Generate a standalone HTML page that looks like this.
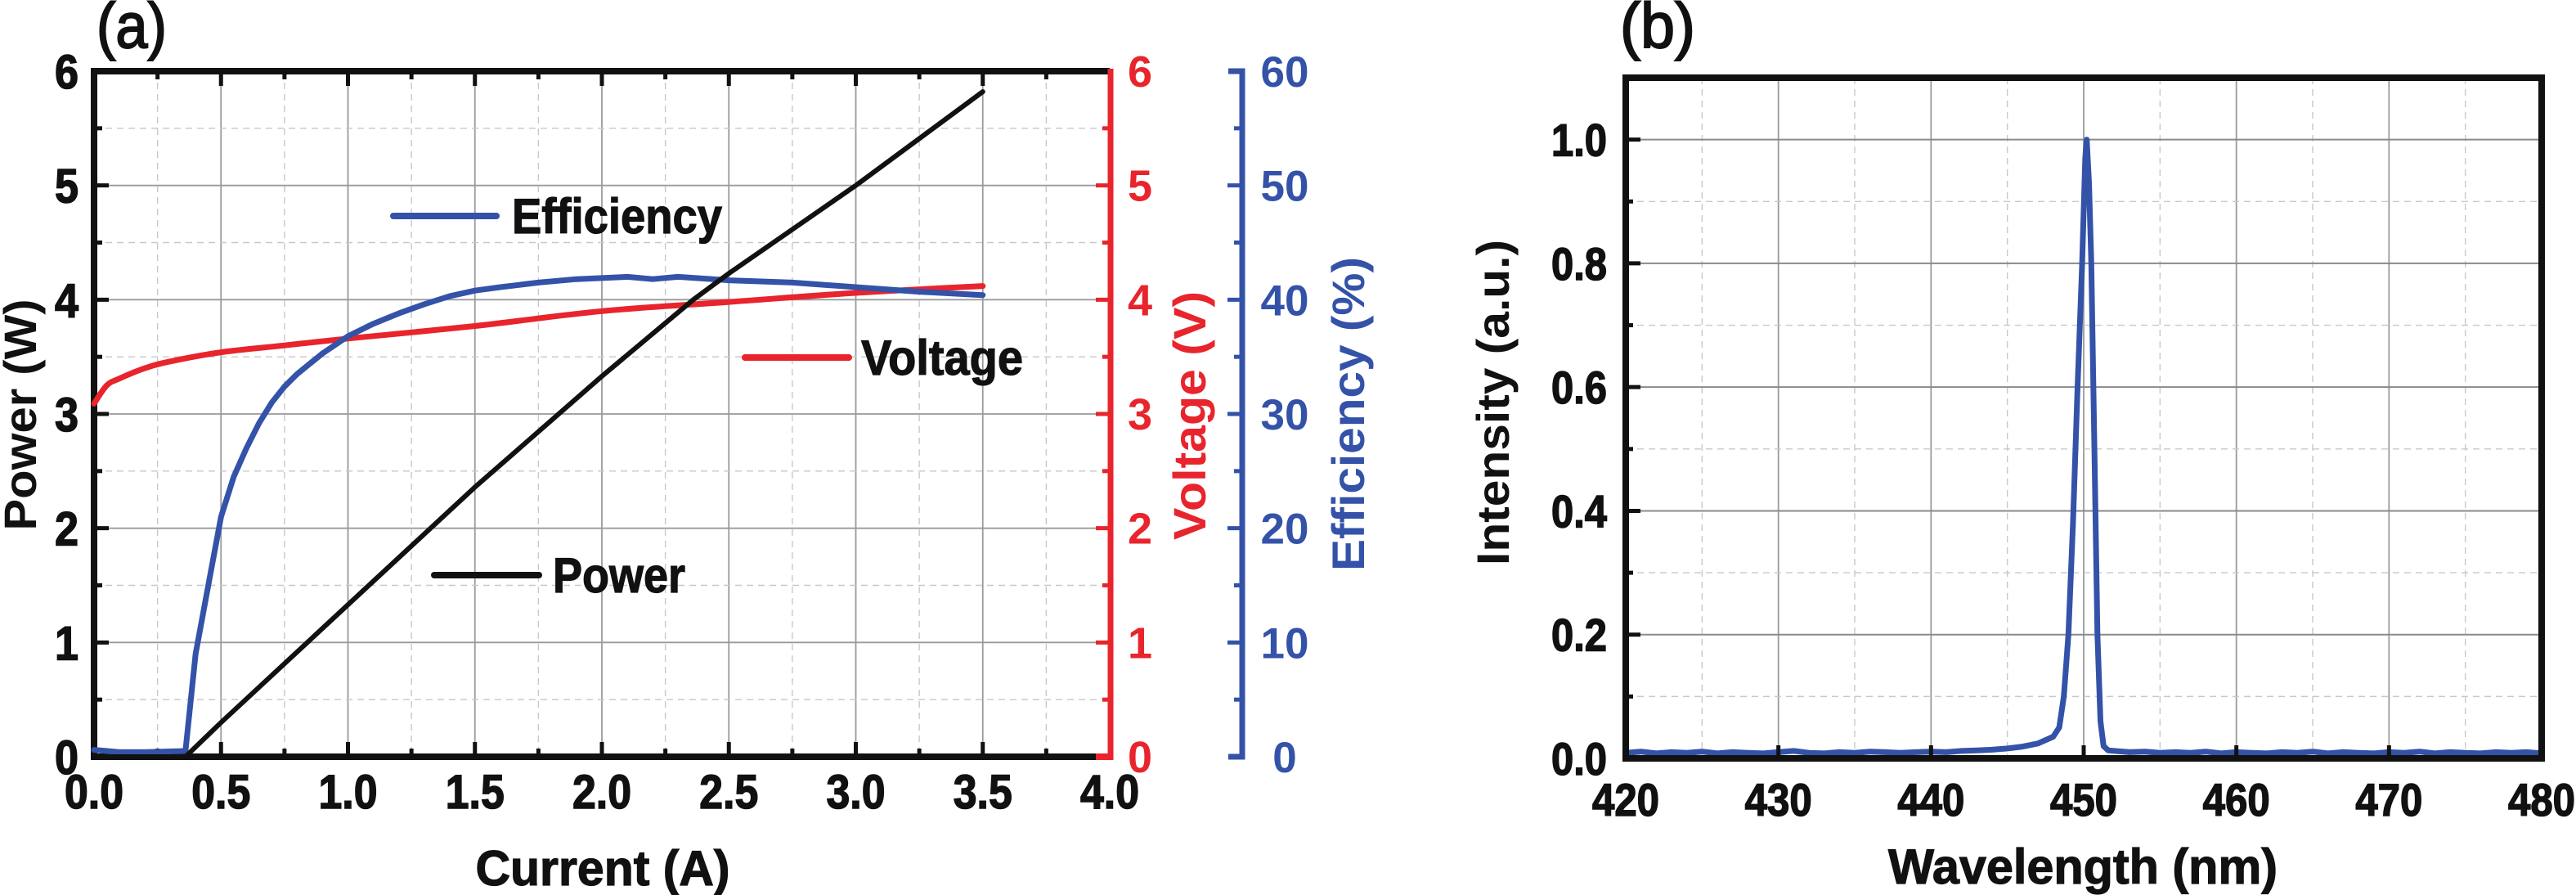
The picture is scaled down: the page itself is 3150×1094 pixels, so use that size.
<!DOCTYPE html>
<html><head><meta charset="utf-8"><style>
html,body{margin:0;padding:0;background:#fff;}
svg{display:block;font-family:"Liberation Sans",sans-serif;font-weight:bold;}
</style></head><body>
<svg id="fig" width="3150" height="1094" viewBox="0 0 3150 1094" xmlns="http://www.w3.org/2000/svg">
<g id="pa"></g>
<g id="pb"></g>
</svg>
<script>
// ---------- Panel (a) data ----------
const xTicksA = [0, 0.5, 1.0, 1.5, 2.0, 2.5, 3.0, 3.5, 4.0];
const xTickLabelsA = ["0.0","0.5","1.0","1.5","2.0","2.5","3.0","3.5","4.0"];
const yTicksPower = [0,1,2,3,4,5,6];
const yTicksVoltage = [0,1,2,3,4,5,6];
const yTicksEff = [0,10,20,30,40,50,60];
const powerCurrent = [0, 0.36, 0.5, 1.0, 1.5, 2.0, 2.36, 2.5, 3.0, 3.5];
const powerValues  = [0, 0, 0.3, 1.33, 2.36, 3.33, 4.0, 4.23, 5.0, 5.82];
const voltCurrent = [0, 0.05, 0.1, 0.2, 0.3, 0.5, 0.75, 1.0, 1.5, 2.0, 2.5, 3.0, 3.5];
const voltValues  = [3.09, 3.25, 3.31, 3.4, 3.46, 3.54, 3.6, 3.66, 3.77, 3.9, 3.98, 4.06, 4.12];
const effCurrent = [0, 0.1, 0.2, 0.36, 0.4, 0.45, 0.5, 0.55, 0.6, 0.65, 0.7, 0.75, 0.8, 0.9, 1.0, 1.1, 1.2, 1.3, 1.4, 1.5, 1.6, 1.75, 1.9, 2.1, 2.2, 2.3, 2.5, 2.75, 3.0, 3.25, 3.5];
const effValues  = [0.6, 0.4, 0.4, 0.5, 9, 15, 21, 24.5, 27, 29.2, 31, 32.4, 33.5, 35.3, 36.8, 37.9, 38.8, 39.6, 40.3, 40.8, 41.1, 41.5, 41.8, 42, 41.8, 42, 41.7, 41.5, 41.1, 40.7, 40.4];
// ---------- Panel (b) data ----------
const xTicksB = [420,430,440,450,460,470,480];
const yTicksB = [0,0.2,0.4,0.6,0.8,1.0];
const yTickLabelsB = ["0.0","0.2","0.4","0.6","0.8","1.0"];
const specWl = [420,421,422,423,424,425,426,427,428,429,430,431,432,433,434,435,436,437,438,439,440,441,442,443,444,445,446,447,448,448.4,448.7,449.0,449.3,449.6,449.9,450.1,450.2,450.35,450.5,450.7,450.9,451.1,451.3,451.6,452,453,454,455,456,457,458,459,460,461,462,463,464,465,466,467,468,469,470,471,472,473,474,475,476,477,478,479,480];
const specI  = [0.009,0.011,0.008,0.010,0.009,0.011,0.008,0.010,0.009,0.008,0.010,0.012,0.009,0.008,0.010,0.009,0.011,0.010,0.009,0.010,0.011,0.010,0.012,0.013,0.014,0.016,0.019,0.024,0.035,0.05,0.1,0.2,0.38,0.6,0.8,0.97,1.0,0.93,0.8,0.5,0.2,0.06,0.02,0.013,0.012,0.010,0.011,0.009,0.010,0.009,0.011,0.008,0.010,0.009,0.008,0.010,0.009,0.011,0.008,0.010,0.009,0.008,0.010,0.009,0.011,0.008,0.010,0.009,0.008,0.010,0.009,0.010,0.008];

const NS = "http://www.w3.org/2000/svg";
function mk(parent, tag, attrs, text){
  const e = document.createElementNS(NS, tag);
  for (const k in attrs) e.setAttribute(k, attrs[k]);
  if (text !== undefined) e.textContent = text;
  parent.appendChild(e);
  return e;
}
const RED = "#e8242c", BLUE = "#3352a8";
function smooth(xs, ys, fx, fy){
  const p = xs.map((x,i)=>[fx(x), fy(ys[i])]);
  let d = `M${p[0][0].toFixed(1)} ${p[0][1].toFixed(1)}`;
  for (let i=0;i<p.length-1;i++){
    const p0=p[Math.max(0,i-1)], p1=p[i], p2=p[i+1], p3=p[Math.min(p.length-1,i+2)];
    const c1=[p1[0]+(p2[0]-p0[0])/6, p1[1]+(p2[1]-p0[1])/6];
    const c2=[p2[0]-(p3[0]-p1[0])/6, p2[1]-(p3[1]-p1[1])/6];
    d += ` C${c1[0].toFixed(1)} ${c1[1].toFixed(1)} ${c2[0].toFixed(1)} ${c2[1].toFixed(1)} ${p2[0].toFixed(1)} ${p2[1].toFixed(1)}`;
  }
  return d;
}
function poly(xs, ys, fx, fy){ return xs.map((x,i)=>`${fx(x).toFixed(1)},${fy(ys[i]).toFixed(1)}`).join(' '); }

// ===== Panel A =====
const pa = document.getElementById('pa');
const AX0 = 115, AX1 = 1357, AY0 = 925, AY1 = 87;
const ax = v => AX0 + (v - 0) / 4 * (AX1 - AX0);
const ayP = v => AY0 - v / 6 * (AY0 - AY1);
const ayV = v => AY0 - v / 6 * (AY0 - AY1);
const ayE = v => AY0 - v / 60 * (AY0 - AY1);

for (let v = 0.25; v < 4; v += 0.25) {
  const major = Math.abs(v*2 - Math.round(v*2)) < 1e-6;
  const g = mk(pa, 'line', {x1: ax(v), x2: ax(v), y1: AY1, y2: AY0, stroke: major ? '#9a9a9a' : '#c8c8c8', 'stroke-width': major ? 1.8 : 1.4, 'stroke-dasharray': major ? 'none' : '8 6'});
  
  
}
for (let v = 0.5; v < 6; v += 0.5) {
  const major = Math.abs(v - Math.round(v)) < 1e-6;
  const g = mk(pa, 'line', {x1: AX0, x2: AX1, y1: ayP(v), y2: ayP(v), stroke: major ? '#9a9a9a' : '#c8c8c8', 'stroke-width': major ? 1.8 : 1.4, 'stroke-dasharray': major ? 'none' : '8 6'});
  
  
}
const fr = mk(pa, 'path', {d: `M${AX1} ${AY1} H${AX0} V${AY0} H${AX1}`, fill: 'none', stroke: '#111', 'stroke-width': 8});


for (let v = 0.25; v < 4; v += 0.25) {
  const major = Math.abs(v*2 - Math.round(v*2)) < 1e-6;
  const L = major ? 18 : 10;
  const t1 = mk(pa, 'line', {x1: ax(v), x2: ax(v), y1: AY0, y2: AY0 - L, stroke: '#111', 'stroke-width': 5});
  
  
  const t2 = mk(pa, 'line', {x1: ax(v), x2: ax(v), y1: AY1, y2: AY1 + L, stroke: '#111', 'stroke-width': 5});
  
  
}
for (let v = 0.5; v < 6; v += 0.5) {
  const major = Math.abs(v - Math.round(v)) < 1e-6;
  const t = mk(pa, 'line', {x1: AX0, x2: AX0 + (major ? 18 : 10), y1: ayP(v), y2: ayP(v), stroke: '#111', 'stroke-width': 5});
  
  
}
xTicksA.forEach((v, i) => {
  const t = mk(pa, 'text', {x: ax(v), y: 988, 'text-anchor': 'middle', 'font-size': 58, textLength: 72, lengthAdjust: 'spacingAndGlyphs', fill: '#111', stroke: '#111', 'stroke-width': 1.5}, xTickLabelsA[i]);
  
  
});
yTicksPower.forEach(v => {
  const t = mk(pa, 'text', {x: 96, y: ayP(v) + 21, 'text-anchor': 'end', 'font-size': 58, textLength: 29, lengthAdjust: 'spacingAndGlyphs', fill: '#111', stroke: '#111', 'stroke-width': 1.5}, String(v));
  
  
});
const RX = 1358;
const ra = mk(pa, 'line', {x1: RX, x2: RX, y1: AY1 - 3, y2: AY0 + 4, stroke: RED, 'stroke-width': 7});


const rb = mk(pa, 'line', {x1: 1340, x2: RX, y1: AY0, y2: AY0, stroke: RED, 'stroke-width': 8});


for (let v = 0.5; v < 6; v += 0.5) {
  const major = Math.abs(v - Math.round(v)) < 1e-6;
  const t = mk(pa, 'line', {x1: RX, x2: RX - (major ? 18 : 10), y1: ayV(v), y2: ayV(v), stroke: RED, 'stroke-width': 5});
  
  
}
yTicksVoltage.forEach(v => {
  const t = mk(pa, 'text', {x: 1394, y: ayV(v) + 19, 'text-anchor': 'middle', 'font-size': 54, fill: RED}, String(v));
  
  
});
const BX = 1519;
const ba = mk(pa, 'path', {d: `M1502 ${AY1} H${BX} V${AY0} H1502`, fill: 'none', stroke: BLUE, 'stroke-width': 7});


for (let v = 5; v < 60; v += 5) {
  const t = mk(pa, 'line', {x1: BX, x2: BX - (v % 10 === 0 ? 18 : 10), y1: ayE(v), y2: ayE(v), stroke: BLUE, 'stroke-width': 5});
  
  
}
yTicksEff.forEach(v => {
  const t = mk(pa, 'text', {x: 1571, y: ayE(v) + 19, 'text-anchor': 'middle', 'font-size': 53, fill: BLUE}, String(v));
  
  
});
const sV = mk(pa, 'path', {d: smooth(voltCurrent, voltValues, ax, ayV), fill: 'none', stroke: RED, 'stroke-width': 7, 'stroke-linejoin': 'round', 'stroke-linecap': 'round'});


const sE = mk(pa, 'polyline', {points: poly(effCurrent, effValues, ax, ayE), fill: 'none', stroke: BLUE, 'stroke-width': 7, 'stroke-linejoin': 'round', 'stroke-linecap': 'round'});


const sP = mk(pa, 'polyline', {points: poly(powerCurrent, powerValues, ax, ayP), fill: 'none', stroke: '#111', 'stroke-width': 6, 'stroke-linejoin': 'round', 'stroke-linecap': 'round'});


const legs = [
  {name:'efficiency', c: BLUE, x1: 481, x2: 607, y: 264, tx: 626, tl: 257, label: 'Efficiency'},
  {name:'voltage', c: RED, x1: 911, x2: 1038, y: 437, tx: 1053, tl: 198, label: 'Voltage'},
  {name:'power', c: '#111', x1: 531, x2: 659, y: 703, tx: 676, tl: 162, label: 'Power'}
];
legs.forEach(l => {
  const g = mk(pa, 'g', {});
  
  
  mk(g, 'line', {x1: l.x1, x2: l.x2, y1: l.y, y2: l.y, stroke: l.c, 'stroke-width': 8, 'stroke-linecap': 'round'});
  mk(g, 'text', {x: l.tx, y: l.y + 21, 'font-size': 60, textLength: l.tl, lengthAdjust: 'spacingAndGlyphs', fill: '#111', stroke: '#111', 'stroke-width': 1.2}, l.label);
});
const tA = mk(pa, 'text', {x: 118, y: 58, 'font-size': 78, textLength: 86, lengthAdjust: 'spacingAndGlyphs', 'font-weight': 'normal', fill: '#111', stroke: '#111', 'stroke-width': 2}, '(a)');


const xt = mk(pa, 'text', {x: 737, y: 1082, 'text-anchor': 'middle', 'font-size': 60, textLength: 311, lengthAdjust: 'spacingAndGlyphs', fill: '#111', stroke: '#111', 'stroke-width': 1.2}, 'Current (A)');


const pt = mk(pa, 'text', {x: 0, y: 0, transform: 'translate(44,507) rotate(-90)', 'text-anchor': 'middle', 'font-size': 56, textLength: 283, lengthAdjust: 'spacingAndGlyphs', fill: '#111'}, 'Power (W)');


const vt = mk(pa, 'text', {x: 0, y: 0, transform: 'translate(1474,508) rotate(-90)', 'text-anchor': 'middle', 'font-size': 56, textLength: 304, lengthAdjust: 'spacingAndGlyphs', fill: RED}, 'Voltage (V)');


const et = mk(pa, 'text', {x: 0, y: 0, transform: 'translate(1668,506) rotate(-90)', 'text-anchor': 'middle', 'font-size': 56, textLength: 384, lengthAdjust: 'spacingAndGlyphs', fill: BLUE}, 'Efficiency (%)');



// ===== Panel B =====
const pb = document.getElementById('pb');
const BX0 = 1988, BX1 = 3108, BY0 = 927, BYTOP = 95;
const bx = v => BX0 + (v - 420) / 60 * (BX1 - BX0);
const by = v => BY0 - v / 1.1 * (BY0 - BYTOP);
for (let v = 425; v < 480; v += 5) {
  const major = v % 10 === 0;
  const g = mk(pb, 'line', {x1: bx(v), x2: bx(v), y1: BYTOP, y2: BY0, stroke: major ? '#9a9a9a' : '#c8c8c8', 'stroke-width': major ? 1.8 : 1.4, 'stroke-dasharray': major ? 'none' : '8 6'});
  
  
}
for (let k = 1; k <= 10; k++) {
  const v = k * 0.1;
  const major = k % 2 === 0;
  const g = mk(pb, 'line', {x1: BX0, x2: BX1, y1: by(v), y2: by(v), stroke: major ? '#8a8a8a' : '#c8c8c8', 'stroke-width': major ? 2 : 1.4, 'stroke-dasharray': major ? 'none' : '8 6'});
  
  
}
const sB = mk(pb, 'polyline', {points: poly(specWl, specI, bx, by), fill: 'none', stroke: BLUE, 'stroke-width': 7, 'stroke-linejoin': 'round'});


const frb = mk(pb, 'rect', {x: BX0, y: BYTOP, width: BX1 - BX0, height: BY0 - BYTOP, fill: 'none', stroke: '#111', 'stroke-width': 8});


for (let v = 430; v < 480; v += 10) {
  const t = mk(pb, 'line', {x1: bx(v), x2: bx(v), y1: BY0, y2: BY0 - 16, stroke: '#111', 'stroke-width': 5});
  
  
}
for (let k = 1; k <= 10; k++) {
  const t = mk(pb, 'line', {x1: BX0, x2: BX0 + (k % 2 === 0 ? 18 : 9), y1: by(k*0.1), y2: by(k*0.1), stroke: '#111', 'stroke-width': 5});
  
  
}
xTicksB.forEach(v => {
  const t = mk(pb, 'text', {x: bx(v), y: 997, 'text-anchor': 'middle', 'font-size': 56, textLength: 82, lengthAdjust: 'spacingAndGlyphs', fill: '#111', stroke: '#111', 'stroke-width': 1.5}, String(v));
  
  
});
yTicksB.forEach((v, i) => {
  const t = mk(pb, 'text', {x: 1931, y: by(v) + 20, 'text-anchor': 'middle', 'font-size': 56, textLength: 68, lengthAdjust: 'spacingAndGlyphs', fill: '#111', stroke: '#111', 'stroke-width': 1.5}, yTickLabelsB[i]);
  
  
});
const tB = mk(pb, 'text', {x: 1981, y: 58, 'font-size': 78, textLength: 92, lengthAdjust: 'spacingAndGlyphs', 'font-weight': 'normal', fill: '#111', stroke: '#111', 'stroke-width': 2}, '(b)');


const wt = mk(pb, 'text', {x: 2547, y: 1080, 'text-anchor': 'middle', 'font-size': 60, textLength: 476, lengthAdjust: 'spacingAndGlyphs', fill: '#111', stroke: '#111', 'stroke-width': 1.2}, 'Wavelength (nm)');


const it = mk(pb, 'text', {x: 0, y: 0, transform: 'translate(1845,492) rotate(-90)', 'text-anchor': 'middle', 'font-size': 56, textLength: 398, lengthAdjust: 'spacingAndGlyphs', fill: '#111'}, 'Intensity (a.u.)');


</script>
</body></html>
